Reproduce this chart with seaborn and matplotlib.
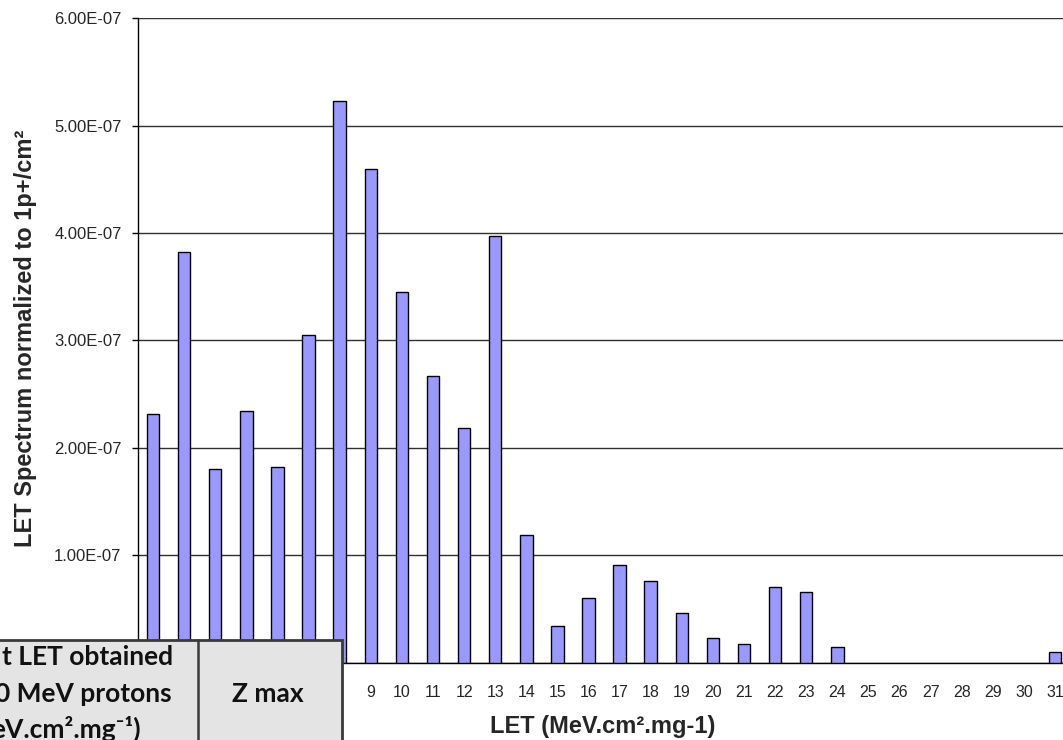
import numpy as np
import pandas as pd
import matplotlib
matplotlib.use("Agg")
import matplotlib.pyplot as plt
from matplotlib.patches import Rectangle
import seaborn as sns

# ----------------------- Data -----------------------

let_bins = [str(v) for v in range(2, 32)]
spectrum = [2.31, 3.82, 1.80, 2.34, 1.82, 3.05, 5.23, 4.60, 3.45, 2.67,
            2.18, 3.97, 1.19, 0.34, 0.60, 0.91, 0.76, 0.46, 0.23, 0.17,
            0.70, 0.66, 0.14, 0.0, 0.0, 0.0, 0.0, 0.0, 0.0, 0.10]
spectrum = [v * 1e-7 for v in spectrum]
# labels 2..8 sit behind the table in the reference
hidden_bins = ["2", "3", "4", "5", "6", "7", "8"]
y_ticks = [0.0, 1e-7, 2e-7, 3e-7, 4e-7, 5e-7, 6e-7]
y_tick_labels = ["", "1.00E-07", "2.00E-07", "3.00E-07", "4.00E-07", "5.00E-07", "6.00E-07"]

table_left_lines = ["t LET obtained", "0 MeV protons", "eV.cm\u00b2.mg\u207b\u00b9)"]
table_right_text = "Z max"

df = pd.DataFrame({"LET": let_bins, "value": spectrum})

# ----------------------- Style -----------------------

sns.set_style("white")
plt.rcParams["font.family"] = ["Liberation Sans", "DejaVu Sans"]

W, H = 1063, 740
fig = plt.figure(figsize=(W / 100, H / 100), dpi=100)

# axes box in pixels (right edge runs past the cropped picture)
ax_l, ax_r, ax_b, ax_t = 137.5, 1070.6, 662.5, 18.3
ax = fig.add_axes([ax_l / W, 1 - ax_b / H, (ax_r - ax_l) / W, (ax_b - ax_t) / H])

sns.barplot(data=df, x="LET", y="value", color="#9999ff", saturation=1,
            edgecolor="black", linewidth=1.0, width=0.4, ax=ax, zorder=3)

# empty bins draw nothing
for patch in ax.patches:
    if patch.get_height() == 0:
        patch.set_visible(False)

ax.set_xlim(-0.5, len(let_bins) - 0.5)
ax.set_ylim(0, 6e-7)
ax.set_yticks(y_ticks)
ax.set_yticklabels(y_tick_labels, fontsize=12)
ax.yaxis.grid(True, color="#303030", linewidth=1.0)
ax.set_axisbelow(True)

# category labels at centres, tick marks at the boundaries
ax.set_xticks(range(len(let_bins)))
ax.set_xticklabels(["" if b in hidden_bins else b for b in let_bins], fontsize=11.5)
ax.set_xticks(np.arange(-0.5, len(let_bins), 1), minor=True)
ax.tick_params(axis="x", which="major", length=0, pad=16)
ax.tick_params(axis="x", which="minor", length=4.5, width=1, color="black", direction="out")
ax.tick_params(axis="y", which="major", length=4, width=1, color="black", direction="out", pad=7.5, left=True)

for side in ["top", "right"]:
    ax.spines[side].set_visible(False)
for side in ["left", "bottom"]:
    ax.spines[side].set_color("black")
    ax.spines[side].set_linewidth(1.0)

ax.set_xlabel("LET (MeV.cm\u00b2.mg-1)", fontsize=17, fontweight="bold")
ax.xaxis.set_label_coords(0.499, (ax_b - 727) / (ax_b - ax_t))
ax.xaxis.label.set_va("center")
ax.set_ylabel("LET Spectrum normalized to 1p+/cm\u00b2", fontsize=17, fontweight="bold")
ax.yaxis.set_label_coords((26 - ax_l) / (ax_r - ax_l), (ax_b - 338) / (ax_b - ax_t))
ax.yaxis.label.set_va("center")

# ----------------------- Overlapping table -----------------------

tbl_top, tbl_right, tbl_div = 640, 342, 198
box = Rectangle((-5 / W, -5 / H), (tbl_right + 5) / W, (H - tbl_top + 5) / H,
                transform=fig.transFigure, facecolor="#e4e4e4", edgecolor="#3a3a3a",
                linewidth=2.0, zorder=10)
fig.add_artist(box)
fig.add_artist(plt.Line2D([tbl_div / W, tbl_div / W], [0, 1 - tbl_top / H],
                          transform=fig.transFigure, color="#3a3a3a", linewidth=1.8, zorder=11))

tfont = dict(family=["Lato", "DejaVu Sans"], fontweight="bold", fontsize=19, color="#111111", zorder=12)
left_ends = [173, 172, 141]
baselines = [665, 701.5, 738]
for txt, xe, yb in zip(table_left_lines, left_ends, baselines):
    fig.text(xe / W, 1 - yb / H, txt, ha="right", va="baseline", **tfont)
fig.text(268 / W, 1 - 701.5 / H, table_right_text, ha="center", va="baseline", **tfont)

fig.savefig("out.png", dpi=100)
